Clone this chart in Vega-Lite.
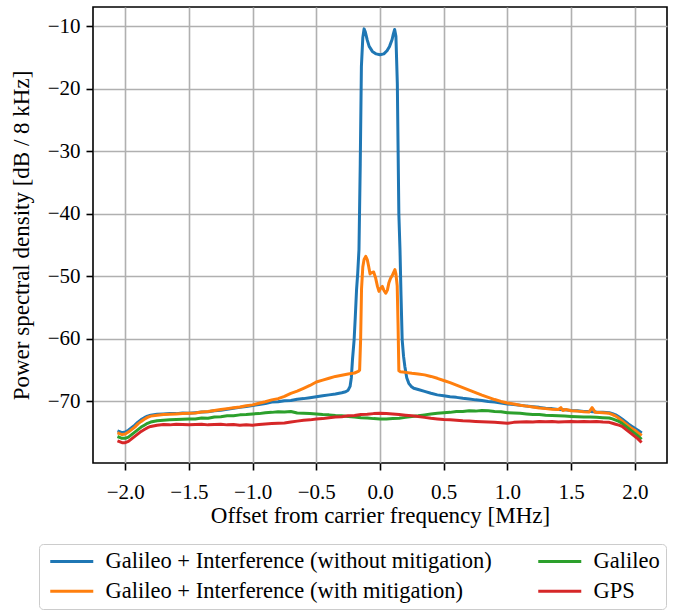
{
  "$schema": "https://vega.github.io/schema/vega-lite/v6.json",
  "width": 574,
  "height": 456,
  "autosize": {"type": "none"},
  "padding": {"left": 93, "top": 7, "right": 8, "bottom": 147},
  "background": "white",
  "config": {
    "view": {"stroke": "black", "strokeWidth": 1.6},
    "font": "Liberation Serif",
    "axis": {
      "domain": false,
      "grid": true,
      "gridColor": "#b0b0b0",
      "gridWidth": 1.6,
      "ticks": true,
      "tickColor": "black",
      "tickWidth": 1.6,
      "tickSize": 7,
      "labelFont": "Liberation Serif",
      "labelFontSize": 21,
      "labelColor": "black",
      "titleFont": "Liberation Serif",
      "titleFontSize": 23,
      "titleFontWeight": "normal",
      "titleColor": "black",
      "labelFlush": false,
      "labelOverlap": false
    }
  },
  "datasets": {
    "without_mitigation": [
      {"f": -2.05, "p": -74.8}, {"f": -2.025, "p": -75.0}, {"f": -2.0, "p": -74.9}, {"f": -1.975, "p": -74.6},
      {"f": -1.95, "p": -74.2}, {"f": -1.925, "p": -73.8}, {"f": -1.9, "p": -73.3}, {"f": -1.875, "p": -72.9},
      {"f": -1.85, "p": -72.6}, {"f": -1.825, "p": -72.35}, {"f": -1.8, "p": -72.2}, {"f": -1.75, "p": -72.05},
      {"f": -1.7, "p": -72.0}, {"f": -1.65, "p": -71.95}, {"f": -1.6, "p": -71.95}, {"f": -1.55, "p": -71.85},
      {"f": -1.5, "p": -71.9}, {"f": -1.45, "p": -71.8}, {"f": -1.4, "p": -71.7}, {"f": -1.35, "p": -71.65},
      {"f": -1.3, "p": -71.5}, {"f": -1.25, "p": -71.4}, {"f": -1.2, "p": -71.25}, {"f": -1.15, "p": -71.1},
      {"f": -1.1, "p": -70.95}, {"f": -1.05, "p": -70.8}, {"f": -1.0, "p": -70.65}, {"f": -0.95, "p": -70.5},
      {"f": -0.9, "p": -70.35}, {"f": -0.85, "p": -70.1}, {"f": -0.8, "p": -70.05}, {"f": -0.75, "p": -69.9},
      {"f": -0.7, "p": -69.85}, {"f": -0.65, "p": -69.65}, {"f": -0.6, "p": -69.55}, {"f": -0.55, "p": -69.4},
      {"f": -0.5, "p": -69.25}, {"f": -0.45, "p": -69.1}, {"f": -0.4, "p": -68.95}, {"f": -0.35, "p": -68.8},
      {"f": -0.3, "p": -68.6}, {"f": -0.27, "p": -68.45}, {"f": -0.25, "p": -68.2}, {"f": -0.235, "p": -67.6},
      {"f": -0.225, "p": -66.2}, {"f": -0.216, "p": -63.3}, {"f": -0.203, "p": -60.1}, {"f": -0.194, "p": -56.5},
      {"f": -0.184, "p": -52.1}, {"f": -0.175, "p": -49.5}, {"f": -0.165, "p": -45.7}, {"f": -0.155, "p": -32.0},
      {"f": -0.146, "p": -16.4}, {"f": -0.135, "p": -11.8}, {"f": -0.125, "p": -10.4}, {"f": -0.115, "p": -10.9},
      {"f": -0.1, "p": -12.2}, {"f": -0.085, "p": -13.2}, {"f": -0.06, "p": -14.0}, {"f": -0.03, "p": -14.4},
      {"f": 0.0, "p": -14.55}, {"f": 0.03, "p": -14.4}, {"f": 0.055, "p": -13.9}, {"f": 0.075, "p": -13.2},
      {"f": 0.095, "p": -12.1}, {"f": 0.105, "p": -11.2}, {"f": 0.115, "p": -10.5}, {"f": 0.125, "p": -11.6},
      {"f": 0.136, "p": -19.1}, {"f": 0.148, "p": -40.0}, {"f": 0.157, "p": -45.8}, {"f": 0.165, "p": -53.0},
      {"f": 0.174, "p": -60.1}, {"f": 0.185, "p": -62.8}, {"f": 0.195, "p": -64.4}, {"f": 0.21, "p": -66.2},
      {"f": 0.226, "p": -67.1}, {"f": 0.245, "p": -67.6}, {"f": 0.265, "p": -67.9}, {"f": 0.3, "p": -68.1},
      {"f": 0.35, "p": -68.4}, {"f": 0.4, "p": -68.7}, {"f": 0.45, "p": -68.95}, {"f": 0.5, "p": -69.1},
      {"f": 0.55, "p": -69.25}, {"f": 0.6, "p": -69.35}, {"f": 0.65, "p": -69.5}, {"f": 0.7, "p": -69.6},
      {"f": 0.75, "p": -69.75}, {"f": 0.8, "p": -69.85}, {"f": 0.85, "p": -70.0}, {"f": 0.9, "p": -70.1},
      {"f": 0.95, "p": -70.25}, {"f": 1.0, "p": -70.4}, {"f": 1.05, "p": -70.5}, {"f": 1.1, "p": -70.6},
      {"f": 1.15, "p": -70.75}, {"f": 1.2, "p": -70.85}, {"f": 1.25, "p": -70.95}, {"f": 1.3, "p": -71.1},
      {"f": 1.35, "p": -71.15}, {"f": 1.4, "p": -71.3}, {"f": 1.45, "p": -71.35}, {"f": 1.5, "p": -71.45},
      {"f": 1.55, "p": -71.5}, {"f": 1.6, "p": -71.6}, {"f": 1.65, "p": -71.6}, {"f": 1.7, "p": -71.7},
      {"f": 1.75, "p": -71.75}, {"f": 1.8, "p": -71.8}, {"f": 1.825, "p": -71.95}, {"f": 1.85, "p": -72.15},
      {"f": 1.875, "p": -72.45}, {"f": 1.9, "p": -72.8}, {"f": 1.925, "p": -73.2}, {"f": 1.95, "p": -73.6},
      {"f": 1.975, "p": -73.95}, {"f": 2.0, "p": -74.3}, {"f": 2.025, "p": -74.6}, {"f": 2.045, "p": -74.9}
    ],
    "with_mitigation": [
      {"f": -2.05, "p": -75.1}, {"f": -2.025, "p": -75.3}, {"f": -2.0, "p": -75.2}, {"f": -1.975, "p": -74.9},
      {"f": -1.95, "p": -74.5}, {"f": -1.925, "p": -74.1}, {"f": -1.9, "p": -73.6}, {"f": -1.875, "p": -73.2},
      {"f": -1.85, "p": -72.85}, {"f": -1.825, "p": -72.55}, {"f": -1.8, "p": -72.35}, {"f": -1.75, "p": -72.2},
      {"f": -1.7, "p": -72.1}, {"f": -1.65, "p": -72.05}, {"f": -1.6, "p": -72.0}, {"f": -1.55, "p": -71.95},
      {"f": -1.5, "p": -71.9}, {"f": -1.45, "p": -71.85}, {"f": -1.4, "p": -71.7}, {"f": -1.35, "p": -71.6},
      {"f": -1.3, "p": -71.45}, {"f": -1.25, "p": -71.3}, {"f": -1.2, "p": -71.15}, {"f": -1.15, "p": -71.0},
      {"f": -1.1, "p": -70.9}, {"f": -1.05, "p": -70.7}, {"f": -1.0, "p": -70.55}, {"f": -0.95, "p": -70.3},
      {"f": -0.9, "p": -70.05}, {"f": -0.85, "p": -69.75}, {"f": -0.8, "p": -69.55}, {"f": -0.75, "p": -69.2},
      {"f": -0.7, "p": -68.7}, {"f": -0.65, "p": -68.35}, {"f": -0.6, "p": -67.9}, {"f": -0.55, "p": -67.45},
      {"f": -0.5, "p": -66.9}, {"f": -0.45, "p": -66.6}, {"f": -0.4, "p": -66.3}, {"f": -0.35, "p": -66.0},
      {"f": -0.3, "p": -65.8}, {"f": -0.25, "p": -65.6}, {"f": -0.2, "p": -65.45}, {"f": -0.17, "p": -65.2},
      {"f": -0.16, "p": -65.0}, {"f": -0.152, "p": -60.0}, {"f": -0.145, "p": -52.0}, {"f": -0.135, "p": -48.5},
      {"f": -0.125, "p": -47.3}, {"f": -0.112, "p": -46.8}, {"f": -0.1, "p": -47.3}, {"f": -0.09, "p": -48.3},
      {"f": -0.078, "p": -49.6}, {"f": -0.065, "p": -49.4}, {"f": -0.05, "p": -49.3}, {"f": -0.035, "p": -50.2},
      {"f": -0.02, "p": -51.6}, {"f": -0.008, "p": -52.4}, {"f": 0.005, "p": -51.9}, {"f": 0.018, "p": -51.6},
      {"f": 0.03, "p": -52.2}, {"f": 0.045, "p": -52.7}, {"f": 0.058, "p": -52.2}, {"f": 0.07, "p": -51.0},
      {"f": 0.083, "p": -50.3}, {"f": 0.095, "p": -49.9}, {"f": 0.108, "p": -49.3}, {"f": 0.117, "p": -48.9},
      {"f": 0.125, "p": -49.6}, {"f": 0.135, "p": -51.5}, {"f": 0.142, "p": -58.0}, {"f": 0.148, "p": -65.1},
      {"f": 0.16, "p": -65.25}, {"f": 0.2, "p": -65.35}, {"f": 0.25, "p": -65.5}, {"f": 0.3, "p": -65.6},
      {"f": 0.35, "p": -65.75}, {"f": 0.4, "p": -66.0}, {"f": 0.45, "p": -66.3}, {"f": 0.5, "p": -66.65},
      {"f": 0.55, "p": -67.0}, {"f": 0.6, "p": -67.4}, {"f": 0.65, "p": -67.8}, {"f": 0.7, "p": -68.2},
      {"f": 0.75, "p": -68.6}, {"f": 0.8, "p": -69.0}, {"f": 0.85, "p": -69.35}, {"f": 0.9, "p": -69.7},
      {"f": 0.95, "p": -70.0}, {"f": 1.0, "p": -70.25}, {"f": 1.05, "p": -70.4}, {"f": 1.1, "p": -70.6},
      {"f": 1.15, "p": -70.75}, {"f": 1.2, "p": -70.9}, {"f": 1.25, "p": -71.05}, {"f": 1.3, "p": -71.15},
      {"f": 1.35, "p": -71.25}, {"f": 1.4, "p": -71.3}, {"f": 1.42, "p": -71.0}, {"f": 1.435, "p": -71.45},
      {"f": 1.46, "p": -71.3}, {"f": 1.5, "p": -71.5}, {"f": 1.55, "p": -71.55}, {"f": 1.6, "p": -71.65},
      {"f": 1.64, "p": -71.7}, {"f": 1.665, "p": -71.0}, {"f": 1.69, "p": -71.75}, {"f": 1.75, "p": -71.8},
      {"f": 1.8, "p": -71.9}, {"f": 1.825, "p": -72.1}, {"f": 1.85, "p": -72.35}, {"f": 1.875, "p": -72.7},
      {"f": 1.9, "p": -73.1}, {"f": 1.925, "p": -73.5}, {"f": 1.95, "p": -73.9}, {"f": 1.975, "p": -74.3},
      {"f": 2.0, "p": -74.6}, {"f": 2.025, "p": -75.0}, {"f": 2.045, "p": -75.3}
    ],
    "galileo": [
      {"f": -2.05, "p": -75.7}, {"f": -2.025, "p": -75.9}, {"f": -2.0, "p": -75.9}, {"f": -1.975, "p": -75.7},
      {"f": -1.95, "p": -75.3}, {"f": -1.925, "p": -74.9}, {"f": -1.9, "p": -74.5}, {"f": -1.875, "p": -74.1},
      {"f": -1.85, "p": -73.8}, {"f": -1.825, "p": -73.5}, {"f": -1.8, "p": -73.3}, {"f": -1.75, "p": -73.1},
      {"f": -1.7, "p": -73.0}, {"f": -1.65, "p": -72.95}, {"f": -1.6, "p": -72.9}, {"f": -1.55, "p": -72.85},
      {"f": -1.5, "p": -72.8}, {"f": -1.45, "p": -72.8}, {"f": -1.4, "p": -72.65}, {"f": -1.35, "p": -72.7},
      {"f": -1.3, "p": -72.5}, {"f": -1.25, "p": -72.45}, {"f": -1.2, "p": -72.3}, {"f": -1.15, "p": -72.3},
      {"f": -1.1, "p": -72.15}, {"f": -1.05, "p": -72.1}, {"f": -1.0, "p": -72.0}, {"f": -0.95, "p": -71.95},
      {"f": -0.9, "p": -71.8}, {"f": -0.85, "p": -71.75}, {"f": -0.8, "p": -71.65}, {"f": -0.75, "p": -71.7},
      {"f": -0.7, "p": -71.6}, {"f": -0.65, "p": -71.85}, {"f": -0.6, "p": -71.9}, {"f": -0.55, "p": -71.95},
      {"f": -0.5, "p": -72.0}, {"f": -0.45, "p": -72.1}, {"f": -0.4, "p": -72.15}, {"f": -0.35, "p": -72.25},
      {"f": -0.3, "p": -72.3}, {"f": -0.25, "p": -72.4}, {"f": -0.2, "p": -72.5}, {"f": -0.15, "p": -72.6},
      {"f": -0.1, "p": -72.65}, {"f": -0.05, "p": -72.75}, {"f": 0.0, "p": -72.8}, {"f": 0.05, "p": -72.8},
      {"f": 0.1, "p": -72.75}, {"f": 0.15, "p": -72.7}, {"f": 0.2, "p": -72.55}, {"f": 0.25, "p": -72.4},
      {"f": 0.3, "p": -72.3}, {"f": 0.35, "p": -72.15}, {"f": 0.4, "p": -72.0}, {"f": 0.45, "p": -71.9},
      {"f": 0.5, "p": -71.8}, {"f": 0.55, "p": -71.75}, {"f": 0.6, "p": -71.6}, {"f": 0.65, "p": -71.6},
      {"f": 0.7, "p": -71.5}, {"f": 0.75, "p": -71.55}, {"f": 0.8, "p": -71.45}, {"f": 0.85, "p": -71.5},
      {"f": 0.9, "p": -71.6}, {"f": 0.95, "p": -71.65}, {"f": 1.0, "p": -71.8}, {"f": 1.05, "p": -71.85},
      {"f": 1.1, "p": -71.9}, {"f": 1.15, "p": -72.0}, {"f": 1.2, "p": -72.1}, {"f": 1.25, "p": -72.1},
      {"f": 1.3, "p": -72.2}, {"f": 1.35, "p": -72.25}, {"f": 1.4, "p": -72.3}, {"f": 1.45, "p": -72.35},
      {"f": 1.5, "p": -72.4}, {"f": 1.55, "p": -72.45}, {"f": 1.6, "p": -72.5}, {"f": 1.65, "p": -72.5},
      {"f": 1.7, "p": -72.55}, {"f": 1.75, "p": -72.6}, {"f": 1.8, "p": -72.65}, {"f": 1.825, "p": -72.8},
      {"f": 1.85, "p": -73.0}, {"f": 1.875, "p": -73.2}, {"f": 1.9, "p": -73.5}, {"f": 1.925, "p": -73.9},
      {"f": 1.95, "p": -74.3}, {"f": 1.975, "p": -74.7}, {"f": 2.0, "p": -75.1}, {"f": 2.025, "p": -75.5},
      {"f": 2.045, "p": -75.9}
    ],
    "gps": [
      {"f": -2.05, "p": -76.4}, {"f": -2.025, "p": -76.6}, {"f": -2.0, "p": -76.6}, {"f": -1.975, "p": -76.4},
      {"f": -1.95, "p": -76.0}, {"f": -1.925, "p": -75.6}, {"f": -1.9, "p": -75.2}, {"f": -1.875, "p": -74.8},
      {"f": -1.85, "p": -74.5}, {"f": -1.825, "p": -74.2}, {"f": -1.8, "p": -74.0}, {"f": -1.75, "p": -73.8},
      {"f": -1.7, "p": -73.7}, {"f": -1.65, "p": -73.75}, {"f": -1.6, "p": -73.65}, {"f": -1.55, "p": -73.7},
      {"f": -1.5, "p": -73.75}, {"f": -1.45, "p": -73.7}, {"f": -1.4, "p": -73.65}, {"f": -1.35, "p": -73.75},
      {"f": -1.3, "p": -73.7}, {"f": -1.25, "p": -73.65}, {"f": -1.2, "p": -73.75}, {"f": -1.15, "p": -73.7},
      {"f": -1.1, "p": -73.8}, {"f": -1.05, "p": -73.75}, {"f": -1.0, "p": -73.8}, {"f": -0.95, "p": -73.7},
      {"f": -0.9, "p": -73.6}, {"f": -0.85, "p": -73.55}, {"f": -0.8, "p": -73.5}, {"f": -0.75, "p": -73.45},
      {"f": -0.7, "p": -73.3}, {"f": -0.65, "p": -73.15}, {"f": -0.6, "p": -73.0}, {"f": -0.55, "p": -72.95},
      {"f": -0.5, "p": -72.8}, {"f": -0.45, "p": -72.75}, {"f": -0.4, "p": -72.6}, {"f": -0.35, "p": -72.5},
      {"f": -0.3, "p": -72.45}, {"f": -0.25, "p": -72.3}, {"f": -0.2, "p": -72.25}, {"f": -0.15, "p": -72.1},
      {"f": -0.1, "p": -72.05}, {"f": -0.05, "p": -71.95}, {"f": 0.0, "p": -71.9}, {"f": 0.05, "p": -71.95},
      {"f": 0.1, "p": -72.0}, {"f": 0.15, "p": -72.1}, {"f": 0.2, "p": -72.2}, {"f": 0.25, "p": -72.3},
      {"f": 0.3, "p": -72.4}, {"f": 0.35, "p": -72.55}, {"f": 0.4, "p": -72.7}, {"f": 0.45, "p": -72.8},
      {"f": 0.5, "p": -72.9}, {"f": 0.55, "p": -72.95}, {"f": 0.6, "p": -73.0}, {"f": 0.65, "p": -73.1},
      {"f": 0.7, "p": -73.15}, {"f": 0.75, "p": -73.2}, {"f": 0.8, "p": -73.25}, {"f": 0.85, "p": -73.3},
      {"f": 0.9, "p": -73.35}, {"f": 0.95, "p": -73.4}, {"f": 1.0, "p": -73.5}, {"f": 1.05, "p": -73.35},
      {"f": 1.1, "p": -73.3}, {"f": 1.15, "p": -73.25}, {"f": 1.2, "p": -73.3}, {"f": 1.25, "p": -73.2},
      {"f": 1.3, "p": -73.25}, {"f": 1.35, "p": -73.2}, {"f": 1.4, "p": -73.3}, {"f": 1.45, "p": -73.25},
      {"f": 1.5, "p": -73.2}, {"f": 1.55, "p": -73.25}, {"f": 1.6, "p": -73.2}, {"f": 1.65, "p": -73.25},
      {"f": 1.7, "p": -73.2}, {"f": 1.75, "p": -73.3}, {"f": 1.8, "p": -73.35}, {"f": 1.825, "p": -73.5},
      {"f": 1.85, "p": -73.65}, {"f": 1.875, "p": -73.8}, {"f": 1.9, "p": -74.0}, {"f": 1.925, "p": -74.4},
      {"f": 1.95, "p": -74.8}, {"f": 1.975, "p": -75.2}, {"f": 2.0, "p": -75.6}, {"f": 2.025, "p": -76.0},
      {"f": 2.045, "p": -76.4}
    ]
  },
  "encoding": {
    "x": {
      "field": "f",
      "type": "quantitative",
      "scale": {"domain": [-2.253, 2.253], "nice": false, "zero": false},
      "axis": {
        "title": "Offset from carrier frequency [MHz]",
        "values": [-2, -1.5, -1, -0.5, 0, 0.5, 1, 1.5, 2],
        "format": ".1f",
        "labelPadding": 11,
        "titlePadding": 2
      }
    },
    "y": {
      "field": "p",
      "type": "quantitative",
      "scale": {"domain": [-79.85, -6.9], "nice": false, "zero": false},
      "axis": {
        "title": "Power spectral density [dB / 8 kHz]",
        "values": [-70, -60, -50, -40, -30, -20, -10],
        "format": "d",
        "labelPadding": 6,
        "titlePadding": 14
      }
    }
  },
  "layer": [
    {
      "data": {"name": "without_mitigation"},
      "mark": {"type": "line", "strokeWidth": 3, "strokeJoin": "round", "strokeCap": "square"},
      "encoding": {
        "color": {
          "datum": "Galileo + Interference (without mitigation)",
          "type": "nominal",
          "scale": {
            "domain": ["Galileo + Interference (without mitigation)", "Galileo + Interference (with mitigation)", "Galileo", "GPS"],
            "range": ["#1f77b4", "#ff7f0e", "#2ca02c", "#d62728"]
          },
          "legend": {
            "title": null,
            "values": ["Galileo + Interference (without mitigation)", "Galileo + Interference (with mitigation)", "Galileo", "GPS"],
            "orient": "none",
            "legendX": -54,
            "legendY": 537,
            "columns": 2,
            "columnPadding": 40,
            "rowPadding": 7,
            "padding": 6,
            "symbolType": "M-1,0H6.17",
            "symbolSize": 144,
            "symbolStrokeWidth": 3,
            "symbolFillColor": "transparent",
            "labelOffset": 38,
            "labelFont": "Liberation Serif",
            "labelFontSize": 22.5,
            "labelColor": "black",
            "labelLimit": 0,
            "strokeColor": "#cccccc",
            "fillColor": "white",
            "cornerRadius": 4
          }
        }
      }
    },
    {
      "data": {"name": "with_mitigation"},
      "mark": {"type": "line", "strokeWidth": 3, "strokeJoin": "round", "strokeCap": "square"},
      "encoding": {
        "color": {
          "datum": "Galileo + Interference (with mitigation)",
          "type": "nominal",
          "scale": {
            "domain": ["Galileo + Interference (without mitigation)", "Galileo + Interference (with mitigation)", "Galileo", "GPS"],
            "range": ["#1f77b4", "#ff7f0e", "#2ca02c", "#d62728"]
          }
        }
      }
    },
    {
      "data": {"name": "galileo"},
      "mark": {"type": "line", "strokeWidth": 3, "strokeJoin": "round", "strokeCap": "square"},
      "encoding": {
        "color": {
          "datum": "Galileo",
          "type": "nominal",
          "scale": {
            "domain": ["Galileo + Interference (without mitigation)", "Galileo + Interference (with mitigation)", "Galileo", "GPS"],
            "range": ["#1f77b4", "#ff7f0e", "#2ca02c", "#d62728"]
          }
        }
      }
    },
    {
      "data": {"name": "gps"},
      "mark": {"type": "line", "strokeWidth": 3, "strokeJoin": "round", "strokeCap": "square"},
      "encoding": {
        "color": {
          "datum": "GPS",
          "type": "nominal",
          "scale": {
            "domain": ["Galileo + Interference (without mitigation)", "Galileo + Interference (with mitigation)", "Galileo", "GPS"],
            "range": ["#1f77b4", "#ff7f0e", "#2ca02c", "#d62728"]
          }
        }
      }
    }
  ]
}
